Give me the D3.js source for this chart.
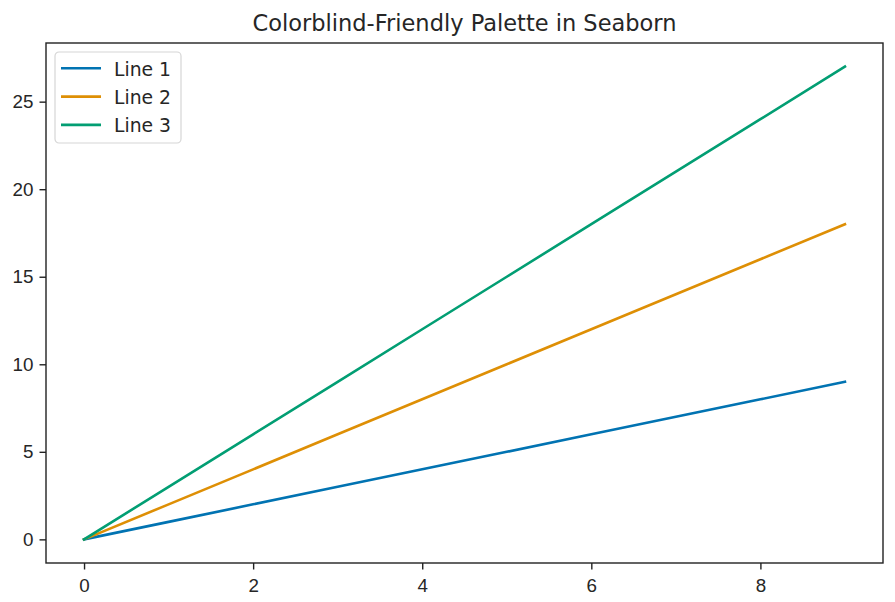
<!DOCTYPE html>
<html>
<head>
<meta charset="utf-8">
<script src="https://cdn.jsdelivr.net/npm/d3@7"></script>
<style>
  body { margin: 0; background: #fff; }
  svg { font-family: "DejaVu Sans", sans-serif; }
</style>
</head>
<body>
<div id="chart"></div>
<script>
var xValues = [0, 1, 2, 3, 4, 5, 6, 7, 8, 9];
var line1 = [0, 1, 2, 3, 4, 5, 6, 7, 8, 9];
var line2 = [0, 2, 4, 6, 8, 10, 12, 14, 16, 18];
var line3 = [0, 3, 6, 9, 12, 15, 18, 21, 24, 27];
var seriesNames = ["Line 1", "Line 2", "Line 3"];
var seriesColors = ["#0173b2", "#de8f05", "#029e73"];
var xTicks = [0, 2, 4, 6, 8];
var yTicks = [0, 5, 10, 15, 20, 25];

var svgWidth = 895;
var svgHeight = 602;
var margin = { top: 43, right: 12, bottom: 39, left: 46 };
var width = svgWidth - margin.left - margin.right;
var height = svgHeight - margin.top - margin.bottom;

var svg = d3.select("#chart").append("svg")
  .attr("width", svgWidth)
  .attr("height", svgHeight);

var chartGroup = svg.append("g")
  .attr("transform", `translate(${margin.left}, ${margin.top})`);

// matplotlib-style 5% padding on both axes
var xScale = d3.scaleLinear().domain([-0.45, 9.45]).range([0, width]);
var yScale = d3.scaleLinear().domain([-1.35, 28.35]).range([height, 0]);

var series = [line1, line2, line3];

var lineGen = d3.line()
  .x((d, i) => xScale(xValues[i]))
  .y(d => yScale(d));

series.forEach(function (s, k) {
  chartGroup.append("path")
    .datum(s)
    .attr("fill", "none")
    .attr("stroke", seriesColors[k])
    .attr("stroke-width", 2.6)
    .attr("stroke-linecap", "square")
    .attr("d", lineGen);
});

// axes
var xAxis = chartGroup.append("g")
  .attr("transform", `translate(0, ${height})`)
  .call(d3.axisBottom(xScale).tickValues(xTicks).tickSize(6.5).tickPadding(9.5).tickFormat(d3.format("d")));
var yAxis = chartGroup.append("g")
  .call(d3.axisLeft(yScale).tickValues(yTicks).tickSize(6.5).tickPadding(6).tickFormat(d3.format("d")));

[xAxis, yAxis].forEach(function (ax) {
  ax.select(".domain").remove();
  ax.selectAll("line").attr("stroke", "#222").attr("stroke-width", 1.4);
  ax.selectAll("text").attr("fill", "#262626").style("font-size", "18.8px");
});

// frame
chartGroup.append("rect")
  .attr("x", 0).attr("y", 0)
  .attr("width", width).attr("height", height)
  .attr("fill", "none")
  .attr("stroke", "#222")
  .attr("stroke-width", 1.4);

// title
svg.append("text")
  .attr("x", margin.left + width / 2)
  .attr("y", 31)
  .attr("text-anchor", "middle")
  .style("font-size", "22.5px")
  .attr("fill", "#262626")
  .text("Colorblind-Friendly Palette in Seaborn");

// legend
var legend = chartGroup.append("g").attr("transform", "translate(9, 9)");
legend.append("rect")
  .attr("width", 126).attr("height", 91)
  .attr("rx", 4)
  .attr("fill", "#fff")
  .attr("fill-opacity", 0.8)
  .attr("stroke", "#d6d6d6")
  .attr("stroke-width", 1.2);
seriesNames.forEach(function (name, k) {
  var y = 16.3 + k * 28.3;
  legend.append("line")
    .attr("x1", 6).attr("x2", 46)
    .attr("y1", y).attr("y2", y)
    .attr("stroke", seriesColors[k])
    .attr("stroke-width", 2.6);
  legend.append("text")
    .attr("x", 59).attr("y", y + 7.2)
    .style("font-size", "18.8px")
    .attr("fill", "#262626")
    .text(name);
});
</script>
</body>
</html>
